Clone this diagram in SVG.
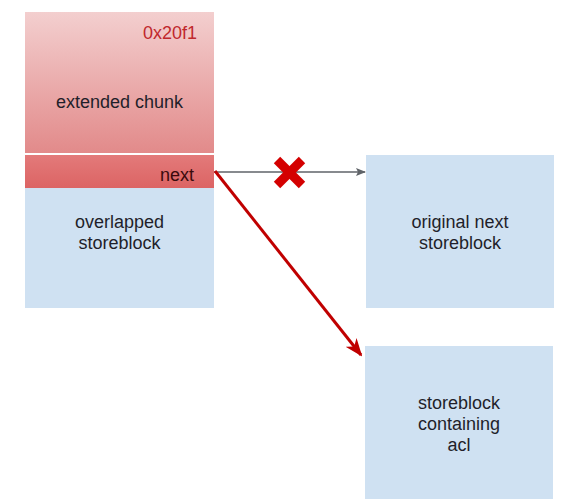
<svg xmlns="http://www.w3.org/2000/svg" width="579" height="504" viewBox="0 0 579 504">
<defs>
<style>
.t{font-family:"Liberation Sans",Arial,sans-serif;font-size:18px;fill:#1f1f2a}
.blue{fill:#cfe1f2}
</style>
<linearGradient id="gr" x1="0" y1="0" x2="0" y2="1">
<stop offset="0" stop-color="#f3cfcf"/>
<stop offset="1" stop-color="#e28a8a"/>
</linearGradient>
<linearGradient id="gn" x1="0" y1="0" x2="0" y2="1">
<stop offset="0" stop-color="#e37a7a"/>
<stop offset="1" stop-color="#dc6464"/>
</linearGradient>
<marker id="ag" markerWidth="10" markerHeight="8" refX="9" refY="4" orient="auto" markerUnits="userSpaceOnUse">
<path d="M0,0 L10,4 L0,8 L2,4 Z" fill="#5f6368"/>
</marker>
<marker id="ar" markerWidth="18" markerHeight="14" refX="16" refY="7" orient="auto" markerUnits="userSpaceOnUse">
<path d="M0,0 L18,7 L0,14 L5,7 Z" fill="#c00000"/>
</marker>
</defs>
<rect width="579" height="504" fill="#ffffff"/>
<g id="extended-chunk">
<rect x="25" y="12" width="189" height="141" fill="url(#gr)"/>
<text x="197" y="39" text-anchor="end" class="t" style="fill:#c0282d">0x20f1</text>
<text x="119.5" y="108" text-anchor="middle" class="t">extended chunk</text>
</g>
<g id="next">
<rect x="25" y="155" width="189" height="33" fill="url(#gn)"/>
<text x="194" y="181" text-anchor="end" class="t" style="fill:#3a0a0c">next</text>
</g>
<g id="overlapped-storeblock">
<rect x="25" y="188" width="189" height="120" class="blue"/>
<text x="119.5" y="228" text-anchor="middle" class="t">overlapped</text>
<text x="119.5" y="249" text-anchor="middle" class="t">storeblock</text>
</g>
<g id="original-next-storeblock">
<rect x="366" y="155" width="188" height="153" class="blue"/>
<text x="460" y="228" text-anchor="middle" class="t">original next</text>
<text x="460" y="249" text-anchor="middle" class="t">storeblock</text>
</g>
<g id="storeblock-containing-acl">
<rect x="365" y="346" width="188" height="153" class="blue"/>
<text x="459" y="409" text-anchor="middle" class="t">storeblock</text>
<text x="459" y="430" text-anchor="middle" class="t">containing</text>
<text x="459" y="451" text-anchor="middle" class="t">acl</text>
</g>
<g id="connectors">
<line x1="214" y1="172" x2="365" y2="172" stroke="#5f6368" stroke-width="1.5" marker-end="url(#ag)"/>
<line x1="215" y1="171" x2="361" y2="355" stroke="#c00000" stroke-width="3" marker-end="url(#ar)"/>
<g id="cross" stroke="#d40000" stroke-width="9" stroke-linecap="butt">
<line x1="277" y1="160" x2="302" y2="185"/>
<line x1="302" y1="160" x2="277" y2="185"/>
</g>
</g>
</svg>
